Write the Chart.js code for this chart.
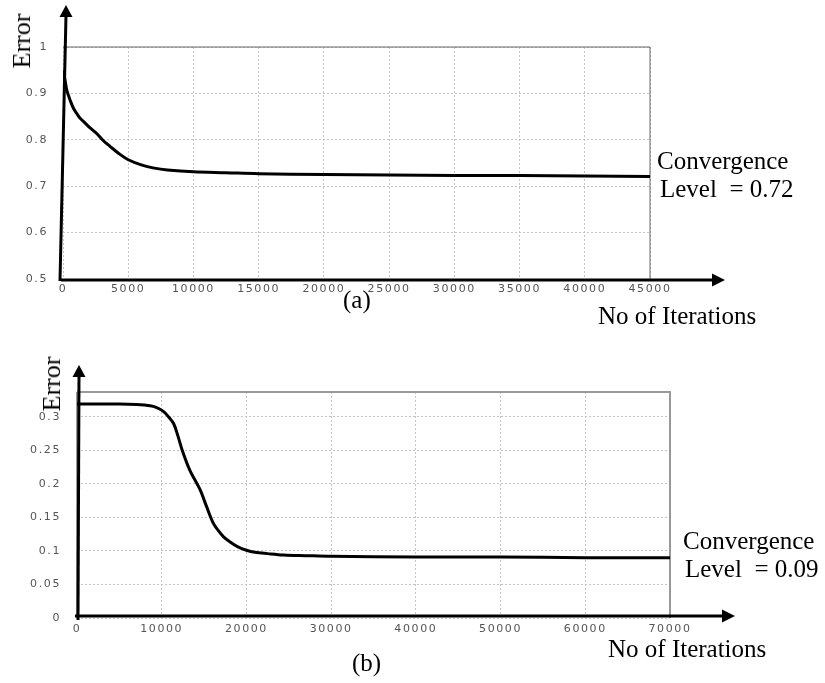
<!DOCTYPE html>
<html>
<head>
<meta charset="utf-8">
<script src="https://cdn.jsdelivr.net/npm/chart.js@4.4.0/dist/chart.umd.min.js"></script>
<style>
  body { margin: 0; background: #fff; width: 825px; height: 683px; position: relative; overflow: hidden; }
  canvas { position: absolute; left: 0; }
  .lbl { position: absolute; font-family: "Liberation Serif", "Times New Roman", serif; font-size: 25px; line-height: 1; color: #000; white-space: pre; }
  .rot { transform: translate(-50%, -50%) rotate(-90deg); }
</style>
</head>
<body>
<canvas id="chartA" width="825" height="340" style="top:0"></canvas>
<canvas id="chartB" width="825" height="343" style="top:340px"></canvas>

<div class="lbl rot" style="left:22px; top:41px; font-size:26px">Error</div>
<div class="lbl" style="left:657px; top:148px">Convergence</div>
<div class="lbl" style="left:660px; top:176px">Level  = 0.72</div>
<div class="lbl" style="left:343px; top:287px">(a)</div>
<div class="lbl" style="left:598px; top:303px">No of Iterations</div>

<div class="lbl rot" style="left:52px; top:384px; font-size:26px">Error</div>
<div class="lbl" style="left:683px; top:528px">Convergence</div>
<div class="lbl" style="left:685px; top:556px">Level  = 0.09</div>
<div class="lbl" style="left:352px; top:650px">(b)</div>
<div class="lbl" style="left:608px; top:636px">No of Iterations</div>

<script>
// (a) error vs iterations
const iterA = [0, 150, 300, 540, 800, 1050, 1300, 1700, 2100, 2600, 3100, 3600, 4300, 5000, 6000, 7000, 8000, 10000, 12500, 15000, 20000, 25000, 30000, 35000, 40000, 45000];
const errA  = [0.95, 0.93, 0.906, 0.886, 0.868, 0.857, 0.847, 0.836, 0.825, 0.813, 0.798, 0.786, 0.77, 0.757, 0.746, 0.739, 0.735, 0.731, 0.729, 0.727, 0.725, 0.724, 0.723, 0.723, 0.722, 0.721];
const xTicksA = [0, 5000, 10000, 15000, 20000, 25000, 30000, 35000, 40000, 45000];
const yTicksA = [0.5, 0.6, 0.7, 0.8, 0.9, 1];

// (b) error vs iterations
const iterB = [0, 5000, 7000, 8000, 9000, 9700, 10300, 10800, 11400, 11900, 12400, 13300, 14500, 15300, 16100, 16700, 17300, 18000, 19000, 20000, 21000, 22500, 24400, 27000, 30000, 40000, 50000, 60000, 70000];
const errB  = [0.319, 0.319, 0.3185, 0.3175, 0.3155, 0.312, 0.307, 0.3, 0.29, 0.272, 0.251, 0.221, 0.192, 0.166, 0.141, 0.13, 0.121, 0.114, 0.106, 0.101, 0.098, 0.096, 0.094, 0.093, 0.092, 0.091, 0.091, 0.09, 0.09];
const xTicksB = [0, 10000, 20000, 30000, 40000, 50000, 60000, 70000];
const yTicksB = [0, 0.05, 0.1, 0.15, 0.2, 0.25, 0.3];

function arrowHead(ctx, x, y, dir) {
    // dir 'up' or 'right'
    ctx.beginPath();
    if (dir === 'up') {
        ctx.moveTo(x, y);
        ctx.lineTo(x - 6.5, y + 12);
        ctx.lineTo(x + 6.5, y + 12);
    } else {
        ctx.moveTo(x, y);
        ctx.lineTo(x - 13, y - 6.5);
        ctx.lineTo(x - 13, y + 6.5);
    }
    ctx.closePath();
    ctx.fill();
}

// spacing of the wide tick font
const spacingPlugin = {
    id: 'spacing',
    beforeDraw(chart) { chart.ctx.letterSpacing = '1.6px'; },
    afterDraw(chart) { chart.ctx.letterSpacing = '0px'; }
};

function axesPlugin(cfg) {
    return {
        id: 'axesArrows',
        beforeDatasetsDraw(chart) {
            const ctx = chart.ctx, a = chart.chartArea;
            ctx.save();
            ctx.strokeStyle = cfg.boxColor;
            ctx.lineWidth = cfg.boxWidth;
            ctx.beginPath();
            ctx.moveTo(a.left, a.top);
            ctx.lineTo(a.right, a.top);
            ctx.lineTo(a.right, a.bottom);
            if (cfg.leftBox) {
                ctx.moveTo(a.left, a.top);
                ctx.lineTo(a.left, a.bottom);
            }
            ctx.stroke();
            ctx.restore();
        },
        afterDatasetsDraw(chart) {
            const ctx = chart.ctx, a = chart.chartArea;
            ctx.save();
            ctx.strokeStyle = '#000';
            ctx.fillStyle = '#000';
            ctx.lineWidth = 3;
            // x axis
            const ay = a.bottom + cfg.xAxisOff;
            const tipX = a.right + cfg.xTip;
            ctx.beginPath();
            ctx.moveTo(a.left - 2, ay);
            ctx.lineTo(tipX - 10, ay);
            ctx.stroke();
            arrowHead(ctx, tipX, ay, 'right');
            // y axis
            const tipY = a.top - cfg.yTip;
            const topX = a.left + cfg.yTopDx;
            ctx.beginPath();
            ctx.moveTo(a.left + cfg.yBotDx, a.bottom + 2);
            ctx.lineTo(topX, tipY + 10);
            ctx.stroke();
            arrowHead(ctx, topX, tipY, 'up');
            ctx.restore();
        }
    };
}

function makeChart(id, xs, ys, xTicks, yTicks, sz) {
    const ctx = document.getElementById(id).getContext('2d');
    const pts = xs.map((x, i) => ({ x: x, y: ys[i] }));
    const tickFont = { family: 'DejaVu Sans', size: 11 };
    return new Chart(ctx, {
        type: 'line',
        data: {
            datasets: [{
                data: pts,
                borderColor: '#000',
                borderWidth: 3,
                pointRadius: 0,
                fill: false,
                tension: 0.35
            }]
        },
        options: {
            responsive: false,
            animation: false,
            layout: { padding: { top: sz.top, right: sz.right, left: 0, bottom: 0 } },
            plugins: { legend: { display: false }, tooltip: { enabled: false } },
            scales: {
                x: {
                    type: 'linear',
                    min: xTicks[0],
                    max: xTicks[xTicks.length - 1],
                    afterFit(s) { s.height = sz.xh; },
                    afterBuildTicks(s) { s.ticks = xTicks.map(v => ({ value: v })); },
                    ticks: {
                        autoSkip: false, maxRotation: 0, padding: sz.xpad,
                        color: '#555', font: tickFont,
                        callback: v => String(v)
                    },
                    grid: { color: '#c4c4c4', lineWidth: 1, drawTicks: false },
                    border: { display: false, dash: [2, 2] }
                },
                y: {
                    type: 'linear',
                    min: sz.ymin,
                    max: sz.ymax,
                    afterFit(s) { s.width = sz.yw; },
                    afterBuildTicks(s) { s.ticks = yTicks.map(v => ({ value: v })); },
                    ticks: {
                        padding: sz.ypad, color: '#555', font: tickFont,
                        callback: v => String(v)
                    },
                    grid: { color: '#c4c4c4', lineWidth: 1, drawTicks: false },
                    border: { display: false, dash: [2, 2] }
                }
            }
        },
        plugins: [spacingPlugin, axesPlugin(sz.axes)]
    });
}

makeChart('chartA', iterA, errA, xTicksA, yTicksA, {
    top: 47, right: 175, xh: 61, yw: 63, xpad: 4, ypad: 15, ymin: 0.5, ymax: 1,
    axes: { boxColor: '#666', boxWidth: 1, leftBox: false, xAxisOff: 1, xTip: 75, yTip: 42, yTopDx: 3, yBotDx: -3 }
});

makeChart('chartB', iterB, errB, xTicksB, yTicksB, {
    top: 52, right: 155, xh: 65, yw: 77, xpad: 5, ypad: 16, ymin: 0, ymax: 0.337,
    axes: { boxColor: '#999', boxWidth: 2, leftBox: true, xAxisOff: -2, xTip: 65, yTip: 27, yTopDx: 2, yBotDx: 1 }
});
</script>
</body>
</html>
